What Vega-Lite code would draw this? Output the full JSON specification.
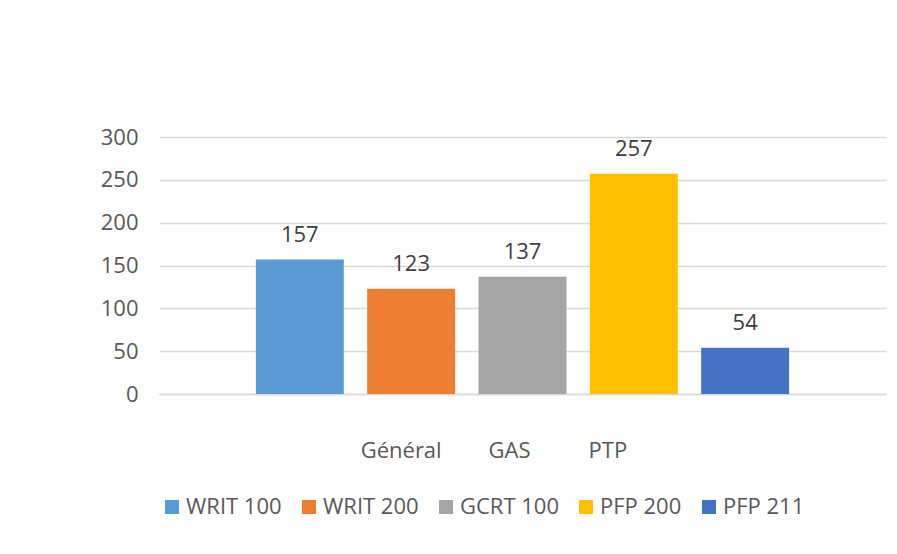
{
  "$schema": "https://vega.github.io/schema/vega-lite/v6.json",
  "width": 727,
  "height": 257,
  "autosize": {"type": "none"},
  "padding": {"left": 159, "top": 137, "right": 11, "bottom": 160},
  "background": "white",
  "config": {
    "view": {"stroke": null},
    "font": "Open Sans"
  },
  "data": {
    "values": [
      {"series": "WRIT 100", "value": 157},
      {"series": "WRIT 200", "value": 123},
      {"series": "GCRT 100", "value": 137},
      {"series": "PFP 200", "value": 257},
      {"series": "PFP 211", "value": 54}
    ]
  },
  "encoding": {
    "x": {
      "field": "series",
      "type": "nominal",
      "sort": ["WRIT 100", "WRIT 200", "GCRT 100", "PFP 200", "PFP 211"],
      "scale": {"paddingInner": 0.21, "paddingOuter": 0.87},
      "axis": {
        "title": null,
        "labelAngle": 0,
        "ticks": false,
        "domainColor": "#D9D9D9",
        "domainWidth": 1.5,
        "labelFont": "Open Sans",
        "labelFontSize": 22,
        "labelColor": "#595959",
        "labelBaseline": "top",
        "labelPadding": 46,
        "labelOverlap": false,
        "labelFlush": false,
        "labelExpr": "datum.value === 'WRIT 200' ? 'Général' : datum.value === 'GCRT 100' ? 'GAS' : datum.value === 'PFP 200' ? 'PTP' : ''",
        "labelOffset": {
          "condition": [
            {"test": "datum.value === 'WRIT 200'", "value": -10},
            {"test": "datum.value === 'GCRT 100'", "value": -13}
          ],
          "value": -26
        }
      }
    },
    "y": {
      "field": "value",
      "type": "quantitative",
      "scale": {"domain": [0, 300], "nice": false},
      "axis": {
        "title": null,
        "values": [0, 50, 100, 150, 200, 250, 300],
        "ticks": false,
        "domain": false,
        "gridColor": "#D9D9D9",
        "gridWidth": 1.5,
        "labelFont": "Open Sans",
        "labelFontSize": 22,
        "labelColor": "#595959",
        "labelPadding": 21
      }
    }
  },
  "layer": [
    {
      "mark": {"type": "bar"},
      "encoding": {
        "color": {
          "field": "series",
          "type": "nominal",
          "scale": {
            "domain": ["WRIT 100", "WRIT 200", "GCRT 100", "PFP 200", "PFP 211"],
            "range": ["#5B9BD5", "#ED7D31", "#A5A5A5", "#FFC000", "#4472C4"]
          },
          "legend": {
            "title": null,
            "orient": "none",
            "direction": "horizontal",
            "legendX": 2,
            "legendY": 359,
            "padding": 0,
            "symbolType": "square",
            "symbolSize": 196,
            "symbolStrokeWidth": 0,
            "symbolOpacity": 1,
            "labelFont": "Open Sans",
            "labelFontSize": 22,
            "labelColor": "#595959",
            "labelOffset": 3,
            "columnPadding": 16,
            "labelLimit": 300
          }
        }
      }
    },
    {
      "mark": {
        "type": "text",
        "baseline": "alphabetic",
        "align": "center",
        "dy": -18,
        "font": "Open Sans",
        "fontSize": 22,
        "color": "#404040"
      },
      "encoding": {
        "text": {"field": "value", "type": "quantitative"}
      }
    }
  ]
}
